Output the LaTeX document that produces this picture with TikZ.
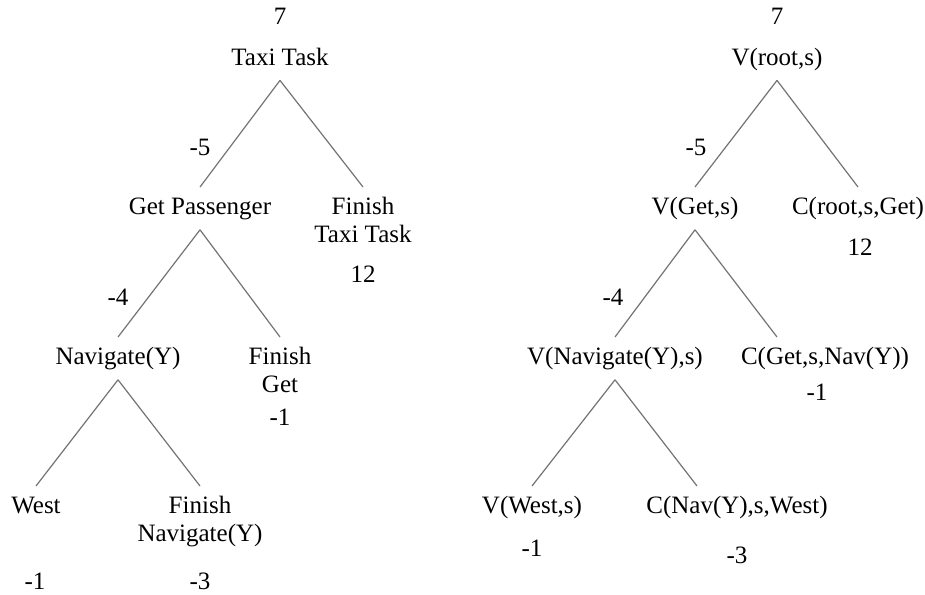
\documentclass[tikz,border=0pt]{standalone}
\usepackage{fontspec}
\setmainfont{Liberation Serif}
\usetikzlibrary{positioning}

\begin{document}
\begin{tikzpicture}[
  x=0.5pt, y=-0.5pt,
  font=\fontsize{12.5}{14}\selectfont,
  tnode/.style={inner xsep=1pt, inner ysep=5pt, text height=8.5pt, text depth=2.5pt},
  fnode/.style={align=center, inner xsep=1pt, inner ysep=5pt},
  val/.style={anchor=base, inner sep=0pt},
  edge/.style={black!55, line width=0.6pt}]
\useasboundingbox (0,0) rectangle (925,594);
% task hierarchy
\node[tnode, anchor=base] (taxi) at (280,65) {Taxi Task};
\node[tnode, anchor=north] (getp) at (200,187) {Get Passenger};
\node[fnode, anchor=north] (fintaxi) at (363,187) {Finish\\Taxi Task};
\node[tnode, anchor=north] (nav) at (118,337) {Navigate(Y)};
\node[fnode, anchor=north] (finget) at (280,337) {Finish\\Get};
\node[tnode, anchor=north] (west) at (36,486) {West};
\node[fnode, anchor=north] (finnav) at (200,486) {Finish\\Navigate(Y)};
\node[val] (vtaxi) at (280,25) {7};
\node[val] (vgetp) at (200,155) {-5};
\node[val] (vfintaxi) at (363,282) {12};
\node[val] (vnav) at (118,305) {-4};
\node[val] (vfinget) at (280,425) {-1};
\node[val] (vwest) at (35,589) {-1};
\node[val] (vfinnav) at (200,589) {-3};
\draw[edge] (taxi.south) -- (getp.north);
\draw[edge] (taxi.south) -- (fintaxi.north);
\draw[edge] (getp.south) -- (nav.north);
\draw[edge] (getp.south) -- (finget.north);
\draw[edge] (nav.south) -- (west.north);
\draw[edge] (nav.south) -- (finnav.north);
% value decomposition
\node[tnode, anchor=base] (Vroot) at (777,65) {V(root,s)};
\node[tnode, anchor=north] (Vget) at (695,187) {V(Get,s)};
\node[tnode, anchor=north] (Croot) at (858,187) {C(root,s,Get)};
\node[tnode, anchor=north] (Vnav) at (615,337) {V(Navigate(Y),s)};
\node[tnode, anchor=north] (Cget) at (825,337) {C(Get,s,Nav(Y))};
\node[tnode, anchor=north] (Vwest) at (532,486) {V(West,s)};
\node[tnode, anchor=north] (Cnav) at (737,486) {C(Nav(Y),s,West)};
\coordinate (Cgetin) at (777,337);
\coordinate (Cnavin) at (697,486);
\node[val] (nVroot) at (777,25) {7};
\node[val] (nVget) at (696,155) {-5};
\node[val] (nCroot) at (860,255) {12};
\node[val] (nVnav) at (613,305) {-4};
\node[val] (nCget) at (817,400) {-1};
\node[val] (nVwest) at (532,556) {-1};
\node[val] (nCnav) at (737,563) {-3};
\draw[edge] (Vroot.south) -- (Vget.north);
\draw[edge] (Vroot.south) -- (Croot.north);
\draw[edge] (Vget.south) -- (Vnav.north);
\draw[edge] (Vget.south) -- (Cgetin);
\draw[edge] (Vnav.south) -- (Vwest.north);
\draw[edge] (Vnav.south) -- (Cnavin);
\end{tikzpicture}
\end{document}
